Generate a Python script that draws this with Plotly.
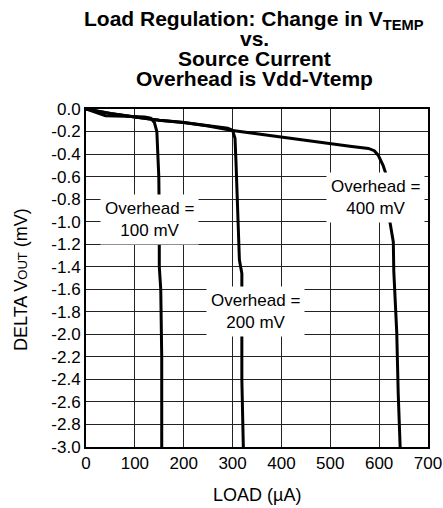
import plotly.graph_objects as go

# Overhead = 100 mV
x100 = [0, 20, 40, 80, 120, 132, 140, 145, 147, 149, 150, 150, 153, 155, 155]
y100 = [0, -0.03, -0.06, -0.065, -0.07, -0.08, -0.12, -0.2, -0.35, -0.6, -1.0, -1.4, -1.6, -2.2, -3.0]

# Overhead = 200 mV
x200 = [0, 50, 100, 150, 200, 250, 290, 300, 305, 307, 310, 314, 319, 319, 322]
y200 = [0, -0.04, -0.07, -0.1, -0.12, -0.15, -0.17, -0.19, -0.26, -0.47, -0.91, -1.34, -1.46, -2.4, -3.0]

# Overhead = 400 mV
x400 = [0, 50, 100, 150, 200, 250, 300, 350, 400, 450, 500, 540, 578, 590, 598, 608, 615, 620, 622, 629, 630, 632, 636, 639, 643]
y400 = [0, -0.04, -0.07, -0.1, -0.12, -0.15, -0.19, -0.22, -0.245, -0.28, -0.31, -0.33, -0.35, -0.37, -0.41, -0.5, -0.59, -0.8, -1.0, -1.18, -1.44, -1.63, -1.98, -2.52, -3.0]

x_ticks = [0, 100, 200, 300, 400, 500, 600, 700]
y_ticks = [0.0, -0.2, -0.4, -0.6, -0.8, -1.0, -1.2, -1.4, -1.6, -1.8, -2.0, -2.2, -2.4, -2.6, -2.8, -3.0]
y_labels = ["0.0", "-0.2", "-0.4", "-0.6", "-0.8", "-1.0", "-1.2", "-1.4", "-1.6", "-1.8",
            "-2.0", "-2.2", "-2.4", "-2.6", "-2.8", "-3.0"]

labels = ["Overhead =<br>100 mV", "Overhead =<br>200 mV", "Overhead =<br>400 mV"]
label_x = [129, 347, 592]
label_y = [-0.985, -1.80, -0.785]

title_lines = ["<b>Load Regulation: Change in V<sub>TEMP</sub></b>", "<b>vs.</b>",
               "<b>Source Current</b>", "<b>Overhead is Vdd-Vtemp</b>"]

FONT = "Liberation Sans, Arial, sans-serif"
W, H = 443, 508
L, R, T, B = 86, 15, 109, 61
PW, PH = W - L - R, H - T - B


def px_x(px):
    return (px - L) / PW


def px_y(py):
    return (H - B - py) / PH


fig = go.Figure()
for xs, ys in [(x100, y100), (x200, y200), (x400, y400)]:
    fig.add_trace(go.Scatter(x=xs, y=ys, mode="lines",
                             line=dict(color="black", width=3),
                             showlegend=False, hoverinfo="skip"))

for t, ax, ay in zip(labels, label_x, label_y):
    fig.add_annotation(x=ax, y=ay, text=t, showarrow=False,
                       bgcolor="white", font=dict(size=17, color="black", family=FONT),
                       borderpad=4)

# title lines
for i, t in enumerate(title_lines):
    fig.add_annotation(xref="paper", yref="paper", x=px_x(254), y=px_y(5 + 20 * i),
                       xanchor="center", yanchor="top", text=t, showarrow=False,
                       font=dict(size=21, color="black", family=FONT))

# axis titles
fig.add_annotation(xref="paper", yref="paper", x=px_x(257), y=px_y(495),
                   xanchor="center", yanchor="middle", text="LOAD (µA)", showarrow=False,
                   font=dict(size=18, color="black", family=FONT))
fig.add_annotation(xref="paper", yref="paper", x=px_x(21), y=px_y(280),
                   xanchor="center", yanchor="middle", textangle=-90,
                   text='DELTA V<span style="font-size:13px">OUT</span> (mV)', showarrow=False,
                   font=dict(size=18, color="black", family=FONT))

fig.update_layout(
    width=W, height=H,
    margin=dict(l=L, r=R, t=T, b=B),
    paper_bgcolor="white", plot_bgcolor="white",
    font=dict(family=FONT, size=17, color="black"),
    xaxis=dict(
        range=[0, 700], tickvals=x_ticks, ticktext=[str(v) for v in x_ticks],
        showgrid=True, gridcolor="#222", gridwidth=1,
        showline=True, linecolor="black", linewidth=2, mirror=True,
        ticks="", zeroline=False, automargin=False,
        tickfont=dict(size=17),
    ),
    yaxis=dict(
        range=[-3.0, 0.0], tickvals=y_ticks, ticktext=y_labels,
        showgrid=True, gridcolor="#222", gridwidth=1,
        showline=True, linecolor="black", linewidth=2, mirror=True,
        ticks="", zeroline=False, automargin=False,
        tickfont=dict(size=17),
    ),
)

fig.write_html("out.html", config={"displayModeBar": False},
               post_script="document.body.style.margin='0px';")
